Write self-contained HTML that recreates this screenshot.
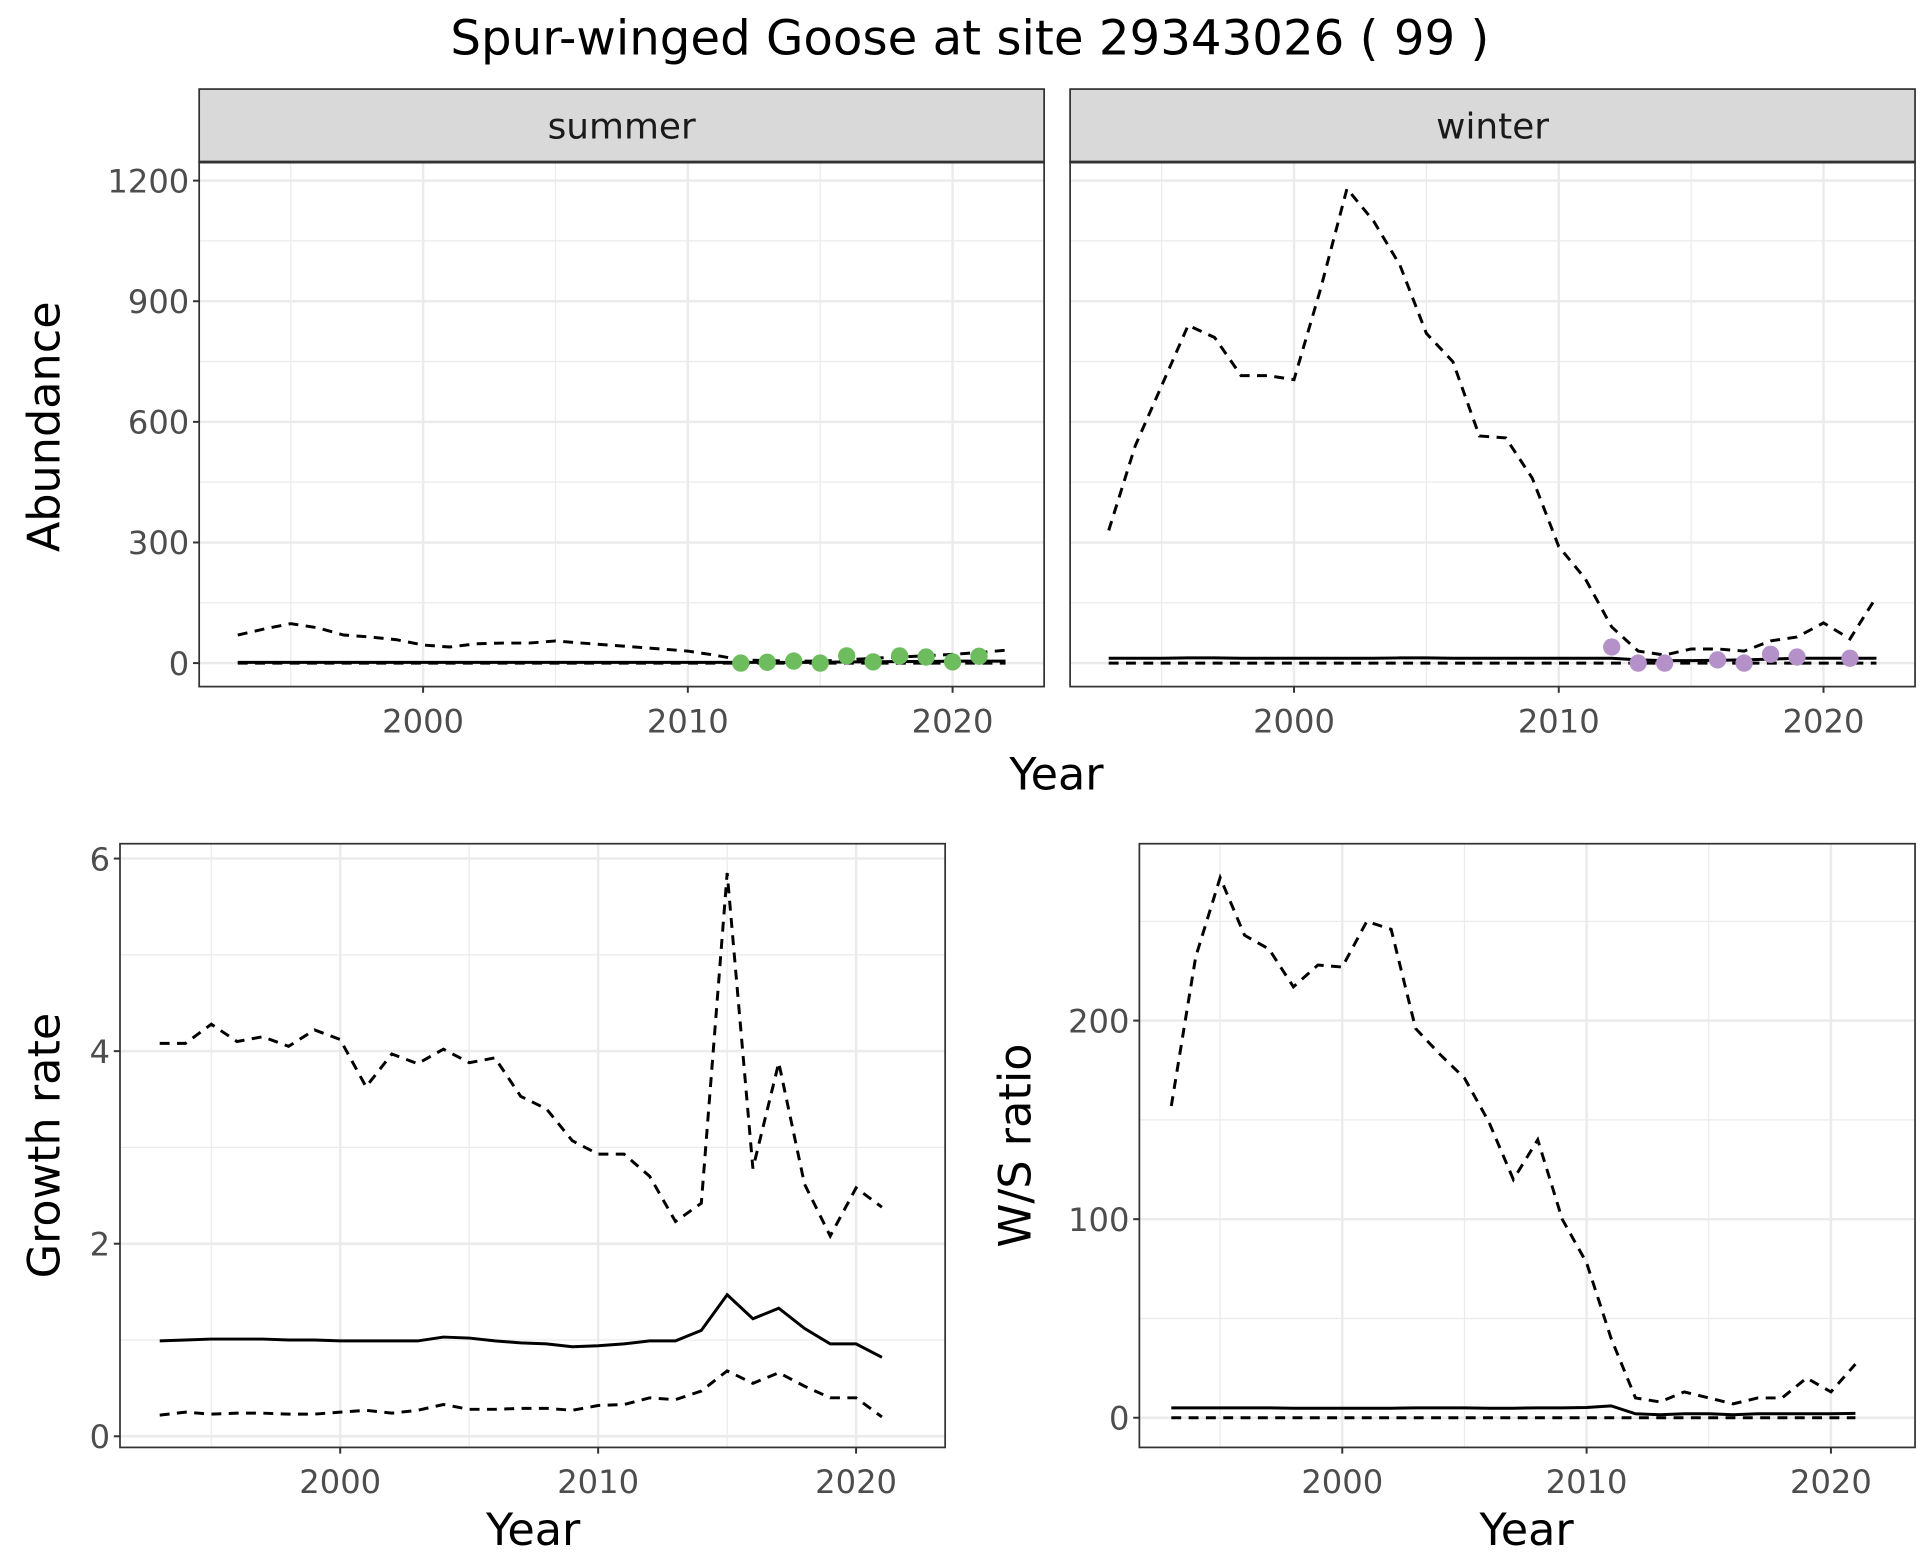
<!DOCTYPE html>
<html><head><meta charset="utf-8"><style>
html,body{margin:0;padding:0;background:#fff;width:1920px;height:1560px;overflow:hidden}
svg{display:block}
text{font-family:"DejaVu Sans","Liberation Sans",sans-serif}
</style></head><body>
<svg id="fig" width="1920" height="1560" viewBox="0 0 1552 1261" preserveAspectRatio="none" xmlns="http://www.w3.org/2000/svg">
<text x="784" y="44" text-anchor="middle" font-size="39" fill="#000">Spur-winged Goose at site 29343026 ( 99 )</text>
</svg>
<script>
const abYears = [1993,1994,1995,1996,1997,1998,1999,2000,2001,2002,2003,2004,2005,2006,2007,2008,2009,2010,2011,2012,2013,2014,2015,2016,2017,2018,2019,2020,2021,2022];
const summerUpper = [70,85,98,88,70,65,58,45,40,48,50,50,55,50,45,40,35,30,20,8,6,5,5,8,12,15,18,22,26,32];
const summerMid = [2,2,2,2,2,2,2,2,2,2,2,2,2,2,2,2,2,2,2,2,2,2,2,3,3,4,4,5,5,5];
const summerLower = [0,0,0,0,0,0,0,0,0,0,0,0,0,0,0,0,0,0,0,0,0,0,0,0,0,0,0,0,0,0];
const summerPtYears = [2012,2013,2014,2015,2016,2017,2018,2019,2020,2021];
const summerPts = [0,2,5,0,18,3,18,15,3,17];
const winterUpper = [330,540,690,840,810,715,715,705,930,1180,1100,990,820,750,565,560,460,290,210,90,30,20,35,35,30,55,65,100,60,165];
const winterMid = [12,12,12,13,13,12,12,12,12,12,12,13,13,12,12,12,12,12,12,12,8,6,6,7,8,10,12,12,12,12];
const winterLower = [0,0,0,0,0,0,0,0,0,0,0,0,0,0,0,0,0,0,0,0,0,0,0,0,0,0,0,0,0,0];
const winterPtYears = [2012,2013,2014,2016,2017,2018,2019,2021];
const winterPts = [40,0,0,8,0,22,15,12];
const abTicks = [0,300,600,900,1200];
const xTicks = [2000,2010,2020];

const grYears = [1993,1994,1995,1996,1997,1998,1999,2000,2001,2002,2003,2004,2005,2006,2007,2008,2009,2010,2011,2012,2013,2014,2015,2016,2017,2018,2019,2020,2021];
const grUpper = [4.08,4.08,4.28,4.1,4.15,4.05,4.22,4.12,3.63,3.97,3.87,4.02,3.88,3.93,3.53,3.4,3.07,2.93,2.93,2.7,2.23,2.42,5.85,2.78,3.88,2.62,2.08,2.58,2.38];
const grMid = [0.99,1.0,1.01,1.01,1.01,1.0,1.0,0.99,0.99,0.99,0.99,1.03,1.02,0.99,0.97,0.96,0.93,0.94,0.96,0.99,0.99,1.1,1.47,1.22,1.33,1.12,0.96,0.96,0.82];
const grLower = [0.22,0.25,0.23,0.24,0.24,0.23,0.23,0.25,0.27,0.24,0.27,0.33,0.28,0.28,0.29,0.29,0.27,0.32,0.33,0.4,0.38,0.47,0.68,0.55,0.66,0.52,0.4,0.4,0.2];
const grTicks = [0,2,4,6];
const wsUpper = [157,232,272,243,236,217,228,227,250,246,196,183,171,149,120,140,100,78,40,10,8,13,10,7,10,10,20,13,27];
const wsMid = [5,5,5,5,5,4.8,4.8,4.8,4.8,4.8,5,5,5,4.8,4.8,5,5,5.2,6,2,1.5,2,2,1.5,2,2,2,2,2.2];
const wsLower = [0,0,0,0,0,0,0,0,0,0,0,0,0,0,0,0,0,0,0,0,0,0,0,0,0,0,0,0,0];
const wsTicks = [0,100,200];

const svg = document.getElementById('fig');
const NS = 'http://www.w3.org/2000/svg';
function mk(tag, attrs, parent){const e=document.createElementNS(NS,tag);for(const k in attrs)e.setAttribute(k,attrs[k]);(parent||svg).appendChild(e);return e;}
function lin(d0,d1,r0,r1){return v=>r0+(v-d0)*(r1-r0)/(d1-d0);}

function panel(o){
  const g=mk('g',{});
  
  
  const x=lin(2000,2020,o.x2000,o.x2020), y=lin(0,o.yTop,o.y0,o.yTopPx);
  mk('rect',{x:o.l,y:o.t,width:o.r-o.l,height:o.b-o.t,fill:'#fff'},g);
  const minorX=[1995,2005,2015];
  minorX.forEach(v=>{const px=x(v); if(px>o.l&&px<o.r) mk('line',{x1:px,x2:px,y1:o.t,y2:o.b,stroke:'#ebebeb','stroke-width':1},g);});
  for(let i=0;i<o.ticks.length-1;i++){const m=(o.ticks[i]+o.ticks[i+1])/2;mk('line',{x1:o.l,x2:o.r,y1:y(m),y2:y(m),stroke:'#ebebeb','stroke-width':1},g);}
  if(o.extraMinor!=null){const m=o.extraMinor;mk('line',{x1:o.l,x2:o.r,y1:y(m),y2:y(m),stroke:'#ebebeb','stroke-width':1},g);}
  xTicks.forEach(v=>mk('line',{x1:x(v),x2:x(v),y1:o.t,y2:o.b,stroke:'#ebebeb','stroke-width':2},g));
  o.ticks.forEach(v=>mk('line',{x1:o.l,x2:o.r,y1:y(v),y2:y(v),stroke:'#ebebeb','stroke-width':2},g));
  const path=(ys,vals,dash,nm)=>{const d=vals.map((v,i)=>(i?'L':'M')+x(ys[i]).toFixed(1)+','+y(v).toFixed(1)).join('');
    const p=mk('path',{d:d,fill:'none',stroke:'#000','stroke-width':2.4,'stroke-dasharray':dash?'8,6':'none'},g);
    
    };
  path(o.years,o.mid,false,'estimate-line');
  path(o.years,o.upper,true,'upper-bound-line');
  path(o.years,o.lower,true,'lower-bound-line');
  if(o.pts){o.pts.forEach((v,i)=>{const c=mk('circle',{cx:x(o.ptYears[i]),cy:y(v),r:7,fill:o.ptColor},g);
    
    });}
  mk('rect',{x:o.l,y:o.t,width:o.r-o.l,height:o.b-o.t,fill:'none',stroke:'#333','stroke-width':1.4},g);
  xTicks.forEach(v=>{mk('line',{x1:x(v),x2:x(v),y1:o.b,y2:o.b+5,stroke:'#333','stroke-width':1.6},g);
    const t=mk('text',{x:x(v),y:o.b+37,'text-anchor':'middle','font-size':26,fill:'#4d4d4d'},g);t.textContent=v;
    
    });
  if(o.showY){o.ticks.forEach(v=>{mk('line',{x1:o.l-5,x2:o.l,y1:y(v),y2:y(v),stroke:'#333','stroke-width':1.6},g);
    const t=mk('text',{x:o.l-8,y:y(v)+9.5,'text-anchor':'end','font-size':26,fill:'#4d4d4d'},g);t.textContent=v;
    
    });}
  if(o.strip){const s=mk('rect',{x:o.l,y:72,width:o.r-o.l,height:o.t-72,fill:'#d9d9d9',stroke:'#333','stroke-width':1.4},g);
    
    
    mk('line',{x1:o.l,x2:o.r,y1:o.t,y2:o.t,stroke:'#333','stroke-width':2.4},g);
    const t=mk('text',{x:(o.l+o.r)/2,y:112,'text-anchor':'middle','font-size':29,fill:'#1a1a1a'},g);t.textContent=o.strip;
    
    }
}

panel({name:'summer-panel',l:161,r:844,t:131,b:555,x2000:342,x2020:770,y0:536,yTop:1200,yTopPx:146,ticks:abTicks,showY:true,strip:'summer',
  years:abYears,upper:summerUpper,mid:summerMid,lower:summerLower,ptYears:summerPtYears,pts:summerPts,ptColor:'#6dbd5e'});
panel({name:'winter-panel',l:865,r:1548,t:131,b:555,x2000:1046,x2020:1474,y0:536,yTop:1200,yTopPx:146,ticks:abTicks,showY:false,strip:'winter',
  years:abYears,upper:winterUpper,mid:winterMid,lower:winterLower,ptYears:winterPtYears,pts:winterPts,ptColor:'#b491c8'});
panel({name:'growth-rate-panel',l:97,r:764,t:682,b:1170,x2000:275,x2020:692,y0:1161,yTop:6,yTopPx:694,ticks:grTicks,showY:true,
  years:grYears,upper:grUpper,mid:grMid,lower:grLower});
panel({name:'ws-ratio-panel',l:921,r:1548,t:682,b:1170,x2000:1085,x2020:1480,y0:1146,yTop:200,yTopPx:825,ticks:wsTicks,showY:true,extraMinor:250,
  years:grYears,upper:wsUpper,mid:wsMid,lower:wsLower});

function label(txt,x,y,rot,nm){const t=mk('text',{x:x,y:y,'text-anchor':'middle','font-size':36,fill:'#000',transform:rot?`rotate(-90 ${x} ${y})`:''});t.textContent=txt;
  
  }
label('Year',854,638,false,'x-axis-title-top');
label('Abundance',48,345,true,'y-axis-title-abundance');
label('Year',431,1249,false,'x-axis-title-growth');
label('Growth rate',48,926,true,'y-axis-title-growth');
label('Year',1234,1249,false,'x-axis-title-ratio');
label('W/S ratio',833,926,true,'y-axis-title-ratio');
</script>
</body></html>
